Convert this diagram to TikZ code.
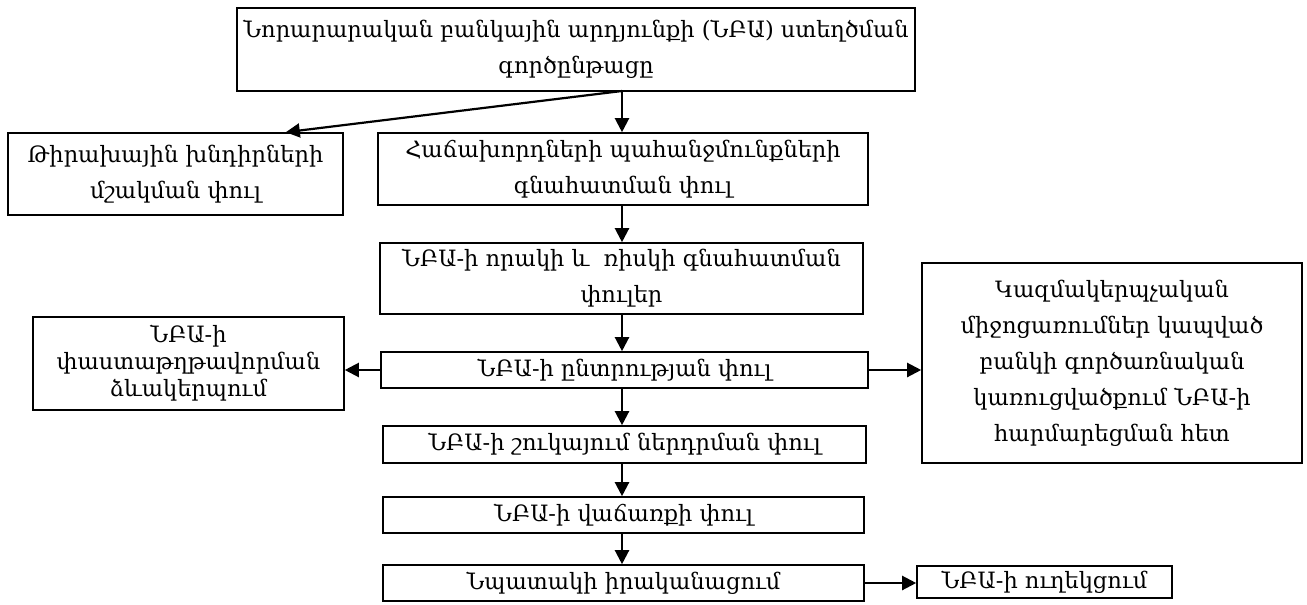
\documentclass[tikz,border=0pt]{standalone}
\usepackage{fontspec}
\newfontfamily\armfont{DejaVu Serif}
\usetikzlibrary{arrows.meta}
\usetikzlibrary{positioning}
\tikzset{
	phasebox/.style={draw, line width=1.6pt, align=center, inner sep=1pt,
		font=\armfont\fontsize{22.5}{36}\selectfont},
	link/.style={-{Triangle[length=14pt,width=14pt]}, line width=2.2pt}
}

\begin{document}
\begin{tikzpicture}[x=1pt,y=-1pt]
		\useasboundingbox (0,0) rectangle (1307,605);
		% main column
		\node[phasebox, minimum width=678pt, minimum height=83pt] (process) at (576,49.5) {Նորարարական բանկային արդյունքի (ՆԲԱ) ստեղծման\\ գործընթացը};
		\node[phasebox, minimum width=490pt, minimum height=72pt] (needs) at (623,169) {Հաճախորդների պահանջմունքների\\ գնահատման փուլ};
		\node[phasebox, minimum width=483pt, minimum height=71pt] (quality) at (621.5,278.5) {ՆԲԱ-ի որակի և\ \ ռիսկի գնահատման\\ փուլեր};
		\node[phasebox, minimum width=487pt, minimum height=36pt] (choice) at (624.5,370) {ՆԲԱ-ի ընտրության փուլ};
		\node[phasebox, minimum width=483pt, minimum height=37pt] (market) at (624.5,444.5) {ՆԲԱ-ի շուկայում ներդրման փուլ};
		\node[phasebox, minimum width=481pt, minimum height=36pt] (sale) at (623.5,515) {ՆԲԱ-ի վաճառքի փուլ};
		\node[phasebox, minimum width=481pt, minimum height=36pt] (goal) at (623.5,583) {Նպատակի իրականացում};
		% side boxes
		\node[phasebox, minimum width=335pt, minimum height=82pt] (target) at (175.5,174) {Թիրախային խնդիրների\\ մշակման փուլ};
		\node[phasebox, minimum width=311pt, minimum height=93pt, font=\armfont\fontsize{22.5}{27}\selectfont] (docs) at (188.5,363.5) {ՆԲԱ-ի\\ փաստաթղթավորման\\ ձևակերպում};
		\node[phasebox, minimum width=380pt, minimum height=200pt] (orgs) at (1112,363) {Կազմակերպչական\\ միջոցառումներ կապված\\ բանկի գործառնական\\ կառուցվածքում ՆԲԱ-ի\\ հարմարեցման հետ};
		\node[phasebox, minimum width=255pt, minimum height=32pt] (support) at (1044.5,582) {ՆԲԱ-ի ուղեկցում};
		% connectors
		\coordinate (split) at (622,91);
		\draw[link] (split) -- (split |- needs.north);
		\draw[link] (split) -- ([xshift=-58pt]target.north east);
		\draw[link] (needs.south -| split) -- (quality.north -| split);
		\draw[link] (quality.south -| split) -- (choice.north -| split);
		\draw[link] (choice.south -| split) -- (market.north -| split);
		\draw[link] (market.south -| split) -- (sale.north -| split);
		\draw[link] (sale.south -| split) -- (goal.north -| split);
		\draw[link] (choice.west) -- (choice.west -| docs.east);
		\draw[link] (choice.east) -- (choice.east -| orgs.west);
		\draw[link] (goal.east) -- (goal.east -| support.west);
\end{tikzpicture}
\end{document}
